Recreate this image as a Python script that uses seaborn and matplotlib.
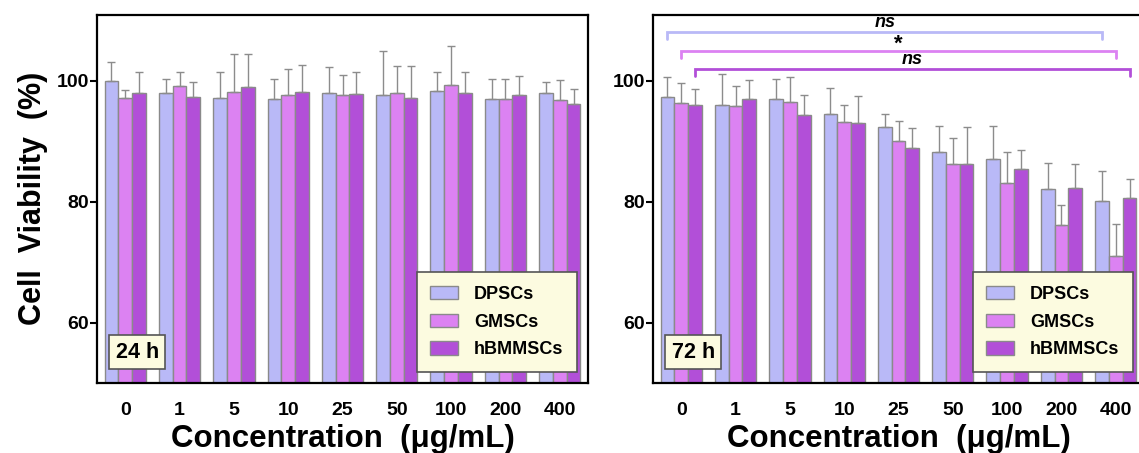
import numpy as np
import pandas as pd
import matplotlib
matplotlib.use("Agg")
import matplotlib.pyplot as plt
from matplotlib.patches import Patch
import seaborn as sns

# ---------------- data ----------------
concentrations = ["0", "1", "5", "10", "25", "50", "100", "200", "400"]
cell_types = ["DPSCs", "GMSCs", "hBMMSCs"]

dpsc_24h = [100.0, 98.0, 97.1, 97.0, 98.0, 97.6, 98.3, 97.0, 98.0]
gmsc_24h = [97.1, 99.1, 98.2, 97.7, 97.7, 98.0, 99.3, 97.0, 96.9]
hbm_24h = [98.0, 97.3, 99.0, 98.2, 97.9, 97.1, 98.0, 97.7, 96.2]
dpsc_24h_sd = [3.2, 2.3, 4.4, 3.4, 4.3, 7.4, 3.2, 3.3, 1.8]
gmsc_24h_sd = [1.4, 2.4, 6.2, 4.3, 3.3, 4.4, 6.5, 3.4, 3.3]
hbm_24h_sd = [3.4, 2.5, 5.4, 4.5, 3.5, 5.4, 3.5, 3.2, 2.5]

dpsc_72h = [97.3, 96.0, 97.0, 94.6, 92.3, 88.3, 87.1, 82.1, 80.2]
gmsc_72h = [96.3, 95.9, 96.5, 93.2, 90.1, 86.3, 83.1, 76.1, 71.0]
hbm_72h = [96.0, 97.0, 94.3, 93.0, 88.9, 86.3, 85.4, 82.3, 80.6]
dpsc_72h_sd = [3.4, 5.2, 3.3, 4.3, 2.2, 4.3, 5.5, 4.4, 4.9]
gmsc_72h_sd = [3.3, 3.2, 4.1, 2.8, 3.3, 4.2, 5.1, 3.4, 5.3]
hbm_72h_sd = [2.6, 3.1, 3.3, 4.5, 3.3, 6.1, 3.1, 4.0, 3.2]

sig_labels_72h = ["ns", "*", "ns"]
time_labels = ["24 h", "72 h"]

# ---------------- style ----------------
sns.set_style("ticks")
plt.rcParams["font.family"] = ["Liberation Sans", "DejaVu Sans"]
plt.rcParams["font.weight"] = "bold"
plt.rcParams["text.color"] = "black"
plt.rcParams["axes.labelcolor"] = "black"
plt.rcParams["xtick.color"] = "black"
plt.rcParams["ytick.color"] = "black"

colors = ["#b9b9f7", "#dc82f2", "#b24fd8"]
edge_gray = "#8a8a8a"
cream = "#fcfbe0"

fig = plt.figure(figsize=(11.39, 4.53), dpi=100)
W, H = 1139.0, 453.0
ax_w = 491 / W
ax_b = 1 - 383 / H
ax_h = (383 - 14.5) / H
ax1 = fig.add_axes([97 / W, ax_b, ax_w, ax_h])
ax2 = fig.add_axes([653 / W, ax_b, ax_w, ax_h])


def make_df(d, g, h, sd_d, sd_g, sd_h):
    rows = []
    for vals, sds, name in [(d, sd_d, "DPSCs"), (g, sd_g, "GMSCs"), (h, sd_h, "hBMMSCs")]:
        for c, v, s in zip(concentrations, vals, sds):
            rows.append({"conc": c, "type": name, "viab": v, "sd": s})
    return pd.DataFrame(rows)


df24 = make_df(dpsc_24h, gmsc_24h, hbm_24h, dpsc_24h_sd, gmsc_24h_sd, hbm_24h_sd)
df72 = make_df(dpsc_72h, gmsc_72h, hbm_72h, dpsc_72h_sd, gmsc_72h_sd, hbm_72h_sd)


def draw(ax, df, tlabel):
    sns.barplot(data=df, x="conc", y="viab", hue="type", order=concentrations,
                hue_order=cell_types, palette=colors, edgecolor=edge_gray,
                linewidth=1.0, errorbar=None, width=0.76, ax=ax, legend=False,
                saturation=1)
    centers = {}
    for cont, name in zip(ax.containers, cell_types):
        sub = df[df["type"] == name].set_index("conc").loc[concentrations]
        xs = [p.get_x() + p.get_width() / 2 for p in cont.patches]
        ys = [p.get_height() for p in cont.patches]
        centers[name] = xs
        ax.errorbar(xs, ys, yerr=[np.zeros(len(xs)), sub["sd"].values],
                    fmt="none", ecolor="#8c8c8c", elinewidth=1.0, capsize=3,
                    capthick=1.0, zorder=1)
    ax.set_ylim(50, 111)
    ax.set_xlim(-0.52, 8.52)
    ax.set_yticks([60, 80, 100])
    ax.tick_params(axis="y", direction="out", length=5, width=1.5, pad=1,
                   labelsize=14)
    ax.tick_params(axis="x", length=0, pad=14, labelsize=14)
    for lab in ax.get_xticklabels() + ax.get_yticklabels():
        lab.set_fontweight("bold")
    for sp in ax.spines.values():
        sp.set_visible(True)
        sp.set_linewidth(1.6)
        sp.set_color("black")
    ax.set_xlabel("Concentration  (\u03bcg/mL)", fontsize=22.5, fontweight="bold",
                  labelpad=3)
    ax.set_ylabel("")
    handles = [Patch(facecolor=c, edgecolor=edge_gray, label=n)
               for c, n in zip(colors, cell_types)]
    leg = ax.legend(handles=handles, loc="lower right",
                    bbox_to_anchor=(0.977, 0.03), borderaxespad=0,
                    prop={"size": 13, "weight": "bold"}, frameon=True,
                    fancybox=False, handlelength=1.55, handleheight=0.75,
                    handletextpad=0.85, labelspacing=0.6, borderpad=0.75)
    leg.get_frame().set_facecolor(cream)
    leg.get_frame().set_edgecolor("#555555")
    leg.get_frame().set_linewidth(1.2)
    leg.get_frame().set_alpha(1)
    ax.text(0.082, 0.083, tlabel, transform=ax.transAxes, ha="center",
            va="center", fontsize=15.5, fontweight="bold",
            bbox=dict(boxstyle="square,pad=0.3", facecolor=cream,
                      edgecolor="#555555", linewidth=1.2))
    return centers


draw(ax1, df24, time_labels[0])
c72 = draw(ax2, df72, time_labels[1])
ax1.set_ylabel("Cell  Viability  (%)", fontsize=22, fontweight="bold", labelpad=6)

# significance brackets on 72 h panel
levels = [(108.1, 106.9, 109.6), (105.0, 103.8, 106.6), (102.0, 100.8, 103.5)]
for name, col, (yl, yend, yt), lab in zip(cell_types, colors, levels, sig_labels_72h):
    x0, x1 = c72[name][0], c72[name][-1]
    ax2.plot([x0, x0, x1, x1], [yend, yl, yl, yend], color=col, lw=2.0,
             solid_joinstyle="miter", clip_on=False)
    if lab == "*":
        ax2.text((x0 + x1) / 2, yt - 0.5, lab, ha="center", va="center",
                 fontsize=16, fontweight="bold")
    else:
        ax2.text((x0 + x1) / 2, yt, lab, ha="center", va="center",
                 fontsize=13, fontweight="bold", fontstyle="italic")

fig.savefig("out.png", dpi=100)
